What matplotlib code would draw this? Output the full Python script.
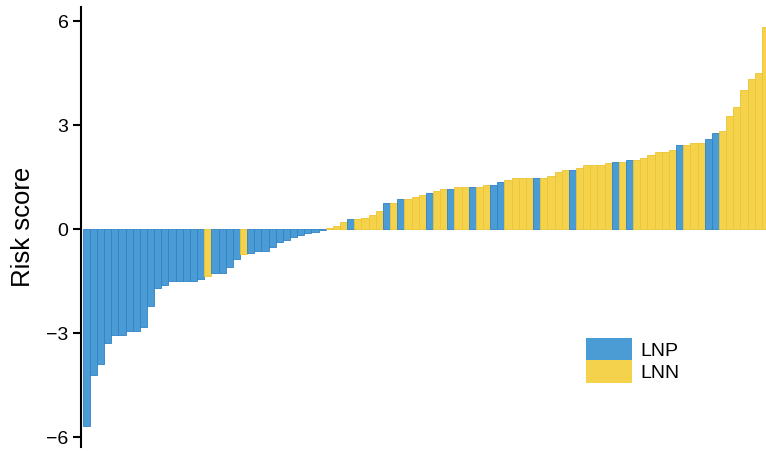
import matplotlib
matplotlib.use("Agg")
import matplotlib.pyplot as plt
from matplotlib.patches import Patch

plt.rcParams['font.family'] = ['Liberation Sans', 'DejaVu Sans']

groups = list("BBBBBBBBBB" "BBBBBBBYBB" "BBYBBBBBBB" "BBBBYYYBYY" "YYBYBYYYBY"
              "YBYYBYYBBY" "YYYBYYYYBY" "YYYYBYBYYY" "YYYBYYYBBY" "YYYYYY")
scores = [-5.67, -4.19, -3.88, -3.28, -3.05, -3.05, -2.92, -2.92, -2.81, -2.20,
          -1.68, -1.61, -1.50, -1.50, -1.50, -1.50, -1.44, -1.34, -1.27, -1.27,
          -1.08, -0.86, -0.72, -0.67, -0.64, -0.62, -0.50, -0.38, -0.32, -0.22,
          -0.17, -0.11, -0.07, -0.03, 0.03, 0.10, 0.21, 0.29, 0.29, 0.34,
          0.40, 0.52, 0.75, 0.75, 0.86, 0.86, 0.93, 0.99, 1.05, 1.11,
          1.17, 1.17, 1.23, 1.23, 1.23, 1.23, 1.29, 1.29, 1.36, 1.42,
          1.48, 1.48, 1.48, 1.48, 1.48, 1.53, 1.65, 1.70, 1.70, 1.77,
          1.84, 1.84, 1.84, 1.90, 1.94, 1.94, 2.01, 2.01, 2.07, 2.13,
          2.24, 2.24, 2.30, 2.42, 2.42, 2.48, 2.48, 2.61, 2.78, 2.84,
          3.26, 3.54, 4.02, 4.33, 4.50, 5.82]
legend_labels = ["LNP", "LNN"]
yticks = [-6, -3, 0, 3, 6]

fill = {"B": "#4B9CD5", "Y": "#F4D24C"}
edge = {"B": "#2F82C8", "Y": "#EDC532"}

fig = plt.figure(figsize=(7.66, 4.51), dpi=100)
ax = fig.add_axes([0.1057, 0.0095, 0.8943, 0.9757])

x = list(range(len(scores)))
ax.bar(x, scores, width=1.0, color=[fill[g] for g in groups],
       edgecolor=[edge[g] for g in groups], linewidth=0.6)

ax.set_xlim(-0.74, 95.08)
ax.set_ylim(-6.27, 6.42)
ax.set_yticks(yticks)
ax.set_yticklabels([str(t).replace('-', '\u2212') for t in yticks], fontsize=14)
ax.set_xticks([])
for s in ['top', 'right', 'bottom']:
    ax.spines[s].set_visible(False)
ax.spines['left'].set_linewidth(1.5)
ax.tick_params(axis='y', length=6, width=1.5, pad=3)
ax.set_ylabel("Risk score", fontsize=18.5, labelpad=8)

handles = [Patch(facecolor=fill["B"], edgecolor='none'),
           Patch(facecolor=fill["Y"], edgecolor='none')]
leg = ax.legend(handles, legend_labels, loc='upper left',
                bbox_to_anchor=(0.737, 0.247), frameon=False,
                fontsize=14, handlelength=2.37, handleheight=1.4,
                handletextpad=0.41, labelspacing=0.0, borderaxespad=0,
                borderpad=0)

fig.savefig("out.png", dpi=100)
